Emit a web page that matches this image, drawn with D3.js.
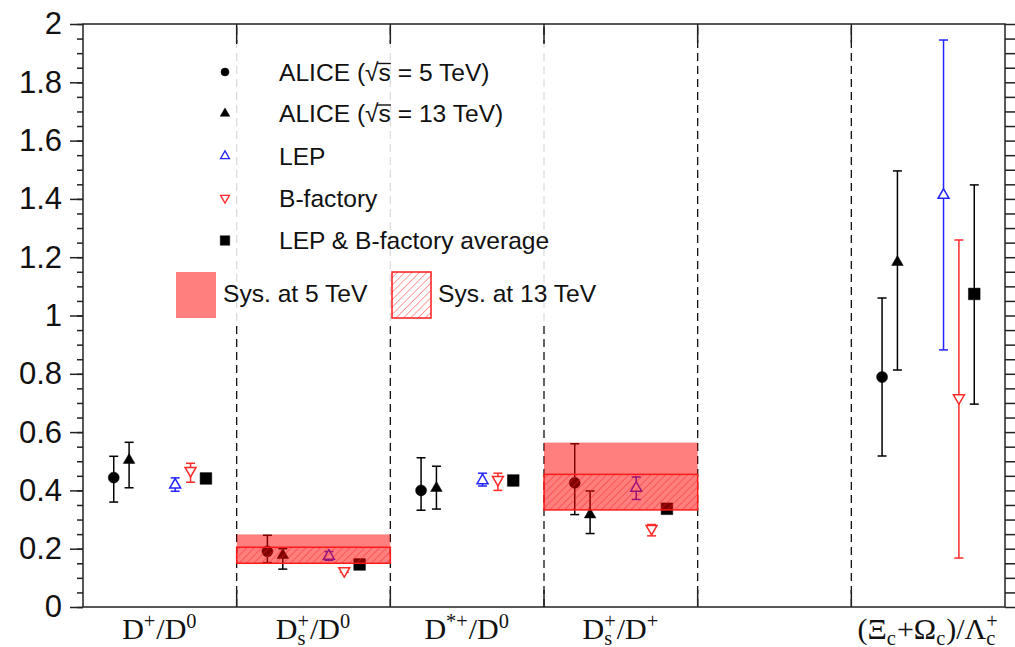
<!DOCTYPE html>
<html><head><meta charset="utf-8">
<script src="https://cdn.jsdelivr.net/npm/d3@7"></script>
<style>body{margin:0;background:#fff}svg{display:block}</style>
</head><body>
<svg id="c" width="1015" height="647"></svg>
<script>
// ---------------- data ----------------
const categories = ["D+/D0", "Ds+/D0", "D*+/D0", "Ds+/D+", "", "(Xic+Omegac)/Lambdac+"];
// rich label parts: [text, kind] kind: n normal, sup, sub, ss (sup+sub stacked: [sup, sub])
const categoryLabels = [
  [["D","n"],["+","sup"],["/D","n"],["0","sup"]],
  [["D","n"],[["+","s"],"ss"],["/D","n"],["0","sup"]],
  [["D","n"],["*+","sup"],["/D","n"],["0","sup"]],
  [["D","n"],[["+","s"],"ss"],["/D","n"],["+","sup"]],
  [],
  [["(\u039E","n"],["c","sub"],["+\u03A9","n"],["c","sub"],[")/\u039B","n"],[["+","c"],"ss"]]
];
const yTicks = [0, 0.2, 0.4, 0.6, 0.8, 1, 1.2, 1.4, 1.6, 1.8, 2];

const alice5    = [0.444, 0.191, 0.400, 0.426, null, 0.789];
const alice5Hi  = [0.517, 0.246, 0.512, 0.560, null, 1.060];
const alice5Lo  = [0.360, 0.152, 0.332, 0.317, null, 0.518];

const alice13   = [0.504, 0.178, 0.408, 0.317, null, 1.183];
const alice13Hi = [0.565, 0.200, 0.483, 0.398, null, 1.496];
const alice13Lo = [0.409, 0.130, 0.336, 0.252, null, 0.813];

const lep       = [0.419, 0.175, 0.434, 0.408, null, 1.413];
const lepHi     = [0.443, 0.190, 0.459, 0.446, null, 1.945];
const lepLo     = [0.397, 0.160, 0.415, 0.369, null, 0.882];

const bfac      = [0.468, 0.124, 0.437, 0.269, null, 0.717];
const bfacHi    = [0.493, 0.129, 0.459, 0.283, null, 1.259];
const bfacLo    = [0.428, 0.119, 0.400, 0.244, null, 0.168];

const avg       = [0.441, 0.146, 0.434, 0.337, null, 1.074];
const avgHi     = [0.455, 0.156, 0.446, 0.347, null, 1.448];
const avgLo     = [0.427, 0.136, 0.422, 0.327, null, 0.696];

// systematic boxes (category index, low, high)
const sys5Cat  = [1, 3];
const sys5Lo   = [0.150, 0.333];
const sys5Hi   = [0.249, 0.564];
const sys13Cat = [1, 3];
const sys13Lo  = [0.150, 0.333];
const sys13Hi  = [0.205, 0.455];

const legendLabels = ["ALICE (\u221As = 5 TeV)", "ALICE (\u221As = 13 TeV)", "LEP", "B-factory", "LEP & B-factory average"];
const sysLabels = ["Sys. at 5 TeV", "Sys. at 13 TeV"];

// ---------------- layout ----------------
const W = 1015, H = 647;
const L = 83, R = 1005, T = 24, B = 607;
const svg = d3.select("#c");
const x = d3.scaleLinear().domain([0, categories.length]).range([L, R]);
const y = d3.scaleLinear().domain([0, 2]).range([B, T]);
const BLUE = "#2424ff", RED = "#ff2b2b", DARK = "#222";
const sans = "'Liberation Sans', Arial, Helvetica, sans-serif";
const serif = "'Liberation Serif', 'Times New Roman', serif";

const defs = svg.append("defs");
const pat = defs.append("pattern").attr("id", "hatch").attr("patternUnits", "userSpaceOnUse")
  .attr("width", 5.2).attr("height", 5.2).attr("patternTransform", "rotate(45)");
pat.append("line").attr("x1", 0).attr("y1", 0).attr("x2", 0).attr("y2", 5.2)
  .attr("stroke", "#ff1a1a").attr("stroke-width", 1.1).attr("stroke-opacity", 0.75);

svg.append("rect").attr("width", W).attr("height", H).attr("fill", "#fff");

// dashed separators
const seps = d3.range(1, categories.length);
svg.append("g").selectAll("line").data(seps).join("line")
  .attr("x1", d => x(d)).attr("x2", d => x(d)).attr("y1", B).attr("y2", T)
  .attr("stroke", "#111").attr("stroke-width", 1.3).attr("stroke-dasharray", "8,5");

// legend background (semi-transparent)
svg.append("rect").attr("x", 166).attr("y", 44).attr("width", 450).attr("height", 278)
  .attr("fill", "#fff").attr("fill-opacity", 0.86);

// ---------------- series ----------------
const series = [
  {v: alice5, hi: alice5Hi, lo: alice5Lo, off: 0.2, sym: d3.symbolCircle, size: 95, color: "#000", fill: "#000", rot: 0},
  {v: alice13, hi: alice13Hi, lo: alice13Lo, off: 0.3, sym: d3.symbolTriangle, size: 58, color: "#000", fill: "#000", rot: 0},
  {v: lep, hi: lepHi, lo: lepLo, off: 0.6, sym: d3.symbolTriangle, size: 52, color: BLUE, fill: "#fff", rot: 0},
  {v: bfac, hi: bfacHi, lo: bfacLo, off: 0.7, sym: d3.symbolTriangle, size: 52, color: RED, fill: "#fff", rot: 180},
  {v: avg, hi: avgHi, lo: avgLo, off: 0.8, sym: d3.symbolSquare, size: 136, color: "#000", fill: "#000", rot: 0}
];
const gData = svg.append("g");
series.forEach(s => {
  const pts = s.v.map((v, i) => ({i, v, hi: s.hi[i], lo: s.lo[i]})).filter(d => d.v != null);
  const g = gData.append("g");
  const cx = d => x(d.i + s.off);
  g.selectAll(".eb").data(pts).join("line").attr("x1", cx).attr("x2", cx)
    .attr("y1", d => y(d.hi)).attr("y2", d => y(d.lo)).attr("stroke", s.color).attr("stroke-width", 1.5);
  ["hi", "lo"].forEach(k => {
    g.selectAll(".cap" + k).data(pts).join("line").attr("x1", d => cx(d) - 4.5).attr("x2", d => cx(d) + 4.5)
      .attr("y1", d => y(d[k])).attr("y2", d => y(d[k])).attr("stroke", s.color).attr("stroke-width", 1.5);
  });
  g.selectAll(".m").data(pts).join("path")
    .attr("d", d3.symbol().type(s.sym).size(s.size))
    .attr("transform", d => `translate(${cx(d)},${y(d.v)}) rotate(${s.rot})`)
    .attr("fill", s.fill).attr("stroke", s.color).attr("stroke-width", s.fill === "#fff" ? 1.5 : 0.5);
});

// systematic boxes
svg.append("g").selectAll("rect").data(sys5Cat.map((c, k) => ({c, lo: sys5Lo[k], hi: sys5Hi[k]}))).join("rect")
  .attr("x", d => x(d.c)).attr("width", d => x(d.c + 1) - x(d.c))
  .attr("y", d => y(d.hi)).attr("height", d => y(d.lo) - y(d.hi))
  .attr("fill", "#ff0000").attr("fill-opacity", 0.5);
svg.append("g").selectAll("rect").data(sys13Cat.map((c, k) => ({c, lo: sys13Lo[k], hi: sys13Hi[k]}))).join("rect")
  .attr("x", d => x(d.c)).attr("width", d => x(d.c + 1) - x(d.c))
  .attr("y", d => y(d.hi)).attr("height", d => y(d.lo) - y(d.hi))
  .attr("fill", "url(#hatch)").attr("stroke", "#ff1a1a").attr("stroke-width", 1.5);

// ---------------- frame & axes ----------------
svg.append("rect").attr("x", L).attr("y", T).attr("width", R - L).attr("height", B - T)
  .attr("fill", "none").attr("stroke", DARK).attr("stroke-width", 1.5);

const minor = d3.range(0, 2.0001, 0.05).map(v => +v.toFixed(2));
const gyL = svg.append("g").attr("transform", `translate(${L},0)`);
gyL.call(d3.axisLeft(y).tickValues(minor).tickSize(6).tickFormat(""));
gyL.call(g => g.select(".domain").remove());
const gyL2 = svg.append("g").attr("transform", `translate(${L},0)`);
gyL2.call(d3.axisLeft(y).tickValues(yTicks).tickSize(13).tickPadding(8).tickFormat(d => String(+d.toFixed(1))));
gyL2.select(".domain").remove();
gyL2.selectAll("text").style("font-family", sans).style("font-size", "31px").attr("fill", "#111");
const gyR = svg.append("g").attr("transform", `translate(${R},0)`);
gyR.call(d3.axisRight(y).tickValues(minor).tickSize(10).tickFormat(""));
gyR.select(".domain").remove();
svg.selectAll(".tick line").attr("stroke", DARK).attr("stroke-width", 1.5);

// bin boundary ticks top/bottom
const bt = svg.append("g");
bt.selectAll(".tb").data(seps).join("line").attr("x1", d => x(d)).attr("x2", d => x(d))
  .attr("y1", B).attr("y2", B - 17).attr("stroke", DARK).attr("stroke-width", 1.5);
bt.selectAll(".tt").data(seps).join("line").attr("x1", d => x(d)).attr("x2", d => x(d))
  .attr("y1", T).attr("y2", T + 19).attr("stroke", DARK).attr("stroke-width", 1.5);

// ---------------- category labels ----------------
function rich(parent, parts, cxPos, base, size) {
  const g = parent.append("g").style("font-family", serif).attr("fill", "#111");
  let pos = 0;
  const small = size * 0.68;
  const put = (t, dx, dy, fs) => {
    const el = g.append("text").attr("x", pos + dx).attr("y", dy).style("font-size", fs + "px").text(t);
    return el.node().getComputedTextLength();
  };
  parts.forEach(([t, k]) => {
    if (k === "n") pos += put(t, 0, 0, size);
    else if (k === "sup") pos += put(t, 0, -size * 0.38, small) + 1;
    else if (k === "sub") pos += put(t, 0, size * 0.2, small) + 1;
    else if (k === "ss") {
      const w1 = put(t[0], 0, -size * 0.38, small);
      const w2 = put(t[1], 0, size * 0.2, small);
      pos += Math.max(w1, w2) + 1;
    }
  });
  g.attr("transform", `translate(${cxPos - pos / 2},${base})`);
}
const gl = svg.append("g");
categoryLabels.forEach((parts, i) => { if (parts.length) rich(gl, parts, x(i + 0.5), 639, 30); });

// ---------------- legend ----------------
const leg = svg.append("g");
const rowY = [72, 113.5, 156, 198, 240.5];
const legSym = [
  {sym: d3.symbolCircle, size: 50, color: "#000", fill: "#000", rot: 0},
  {sym: d3.symbolTriangle, size: 40, color: "#000", fill: "#000", rot: 0},
  {sym: d3.symbolTriangle, size: 34, color: BLUE, fill: "#fff", rot: 0},
  {sym: d3.symbolTriangle, size: 34, color: RED, fill: "#fff", rot: 180},
  {sym: d3.symbolSquare, size: 90, color: "#000", fill: "#000", rot: 0}
];
legendLabels.forEach((lab, k) => {
  const s = legSym[k];
  leg.append("path").attr("d", d3.symbol().type(s.sym).size(s.size))
    .attr("transform", `translate(225,${rowY[k]}) rotate(${s.rot})`)
    .attr("fill", s.fill).attr("stroke", s.color).attr("stroke-width", s.fill === "#fff" ? 1.3 : 0.5);
  const t = leg.append("text").attr("x", 279).attr("y", rowY[k] + 8.5)
    .style("font-family", sans).style("font-size", "24.6px").attr("fill", "#111").text(lab);
  const idx = lab.indexOf("\u221A");
  if (idx >= 0) {
    const n = t.node();
    const x0 = n.getEndPositionOfChar(idx).x - 1.5;
    const x1 = n.getEndPositionOfChar(idx + 1).x;
    leg.append("line").attr("x1", x0).attr("x2", x1).attr("y1", rowY[k] - 8.5).attr("y2", rowY[k] - 8.5)
      .attr("stroke", "#111").attr("stroke-width", 1.4);
  }
});
// sys legend
leg.append("rect").attr("x", 176).attr("y", 272).attr("width", 40).attr("height", 46)
  .attr("fill", "#ff0000").attr("fill-opacity", 0.5);
leg.append("text").attr("x", 223).attr("y", 302).style("font-family", sans).style("font-size", "24.6px")
  .attr("fill", "#111").text(sysLabels[0]);
leg.append("rect").attr("x", 392).attr("y", 272).attr("width", 39).attr("height", 46)
  .attr("fill", "url(#hatch)").attr("stroke", "#ff1a1a").attr("stroke-width", 1.5);
leg.append("text").attr("x", 438).attr("y", 302).style("font-family", sans).style("font-size", "24.6px")
  .attr("fill", "#111").text(sysLabels[1]);
</script>
</body></html>
